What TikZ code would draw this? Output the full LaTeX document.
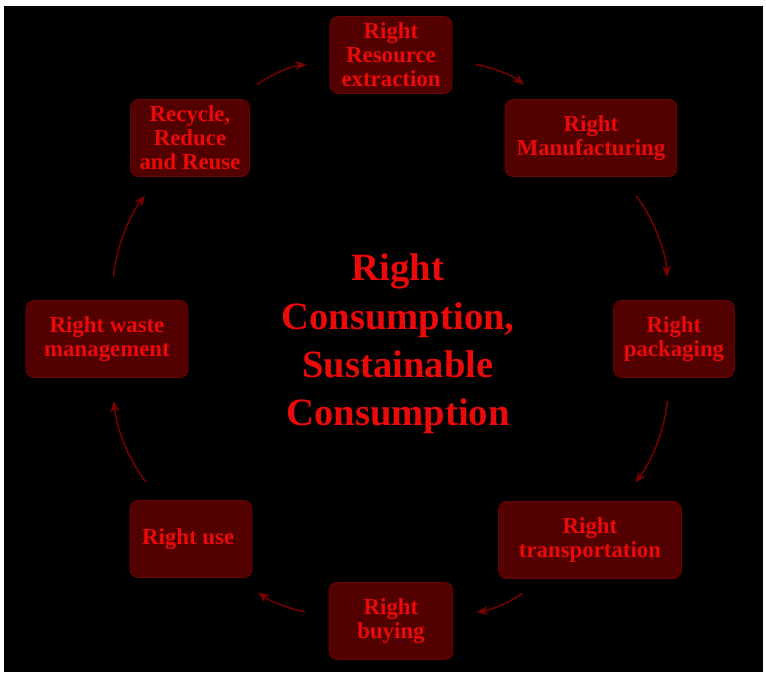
\documentclass[tikz,border=0pt]{standalone}
\usepackage{fontspec}
\setmainfont{Liberation Serif}
\usetikzlibrary{arrows.meta}

\definecolor{boxfill}{RGB}{82,0,0}
\definecolor{boxline}{RGB}{105,5,5}
\definecolor{txtred}{RGB}{235,10,10}
\definecolor{arrred}{RGB}{125,0,0}

\begin{document}
\begin{tikzpicture}[
    font=\bfseries,
    stage/.style={
        draw=boxline,
        fill=boxfill,
        text=txtred,
        rounded corners=0.16cm,
        minimum height=1.54cm,
        align=center,
        font=\fontsize{13}{13.6}\selectfont\bfseries
    },
    cyc/.style={
        -{Stealth[length=2.2mm,width=1.8mm]},
        draw=arrred,
        line width=0.8pt,
        bend left=16,
        shorten <=0.47cm,
        shorten >=0.47cm
    }
]

\useasboundingbox (-7.82,-6.70) rectangle (7.50,6.78);
\fill[white] (-7.82,-6.70) rectangle (7.50,6.78);
\fill[black] (-7.74,-6.66) rectangle (7.44,6.66);

\node[stage, minimum width=2.44cm] (res) at (0,5.68) {
Right\\Resource\\extraction
};

\node[stage, minimum width=3.44cm] (man) at (4.0,4.02) {
Right\\Manufacturing
};

\node[stage, minimum width=2.42cm] (pack) at (5.66,0) {
Right\\packaging
};

\node[stage, minimum width=3.66cm] (trans) at (3.98,-4.02) {
Right\\transportation
};

\node[stage, minimum width=2.48cm] (buy) at (0,-5.64) {
Right\\buying
};

\node[stage, minimum width=2.44cm] (use) at (-4.0,-4.0) {
Right use
};

\node[stage, minimum width=3.24cm] (waste) at (-5.68,0) {
Right waste\\management
};

\node[stage, minimum width=2.38cm] (rec) at (-4.02,4.02) {
Recycle,\\Reduce\\and Reuse
};

\node[text=txtred, align=center, font=\fontsize{22}{27.5}\selectfont\bfseries] (core) at (0.14,-0.1) {
Right\\Consumption,\\Sustainable\\Consumption
};

\draw[cyc] (res) to (man);
\draw[cyc] (man) to (pack);
\draw[cyc] (pack) to (trans);
\draw[cyc] (trans) to (buy);
\draw[cyc] (buy) to (use);
\draw[cyc] (use) to (waste);
\draw[cyc] (waste) to (rec);
\draw[cyc] (rec) to (res);

\end{tikzpicture}
\end{document}
